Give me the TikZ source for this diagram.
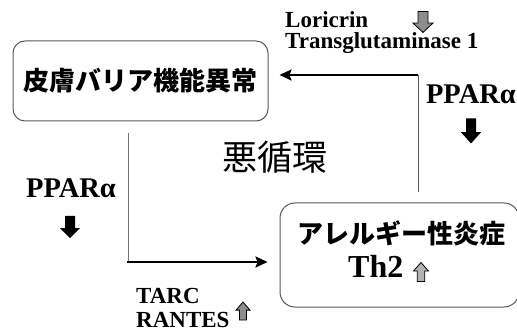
\documentclass[tikz,border=0pt]{standalone}
\usepackage{fontspec}
\setmainfont{Liberation Serif}
\newfontfamily\jp{Noto Sans CJK JP}
\usetikzlibrary{arrows.meta}
\tikzset{
  box/.style={draw=black!65, line width=1pt, rounded corners=12pt, inner sep=0pt},
  lat/.style={font=\fontsize{23}{23}\selectfont\bfseries, inner sep=0pt},
  big/.style={font=\fontsize{28.5}{28.5}\selectfont\bfseries, inner sep=0pt},
  jpbold/.style={font=\jp\bfseries\fontsize{26}{30}\selectfont, inner sep=0pt},
  thinline/.style={draw=black!55, line width=1pt},
  thickarrow/.style={draw=black, line width=2.2pt, -{Stealth[length=12pt,width=11pt,inset=2pt]}},
  blkarr/.pic={\path[pic actions] (-0.25,-0.5) -- (0.25,-0.5) -- (0.25,0.05) -- (0.5,0.05) -- (0,0.5) -- (-0.5,0.05) -- (-0.25,0.05) -- cycle;},
  solidarr/.style={fill=black, draw=none},
  grayarr/.style={fill=black!45, draw=black, line width=0.8pt},
}
\begin{document}
\begin{tikzpicture}[x=1pt, y=-1pt]
\useasboundingbox (0,0) rectangle (517,331);
% boxes
\node[box, jpbold, minimum width=255pt, minimum height=80pt] (b1) at (140.5,81) {皮膚バリア機能異常};
\node[box, rounded corners=15pt, minimum width=239pt, minimum height=104pt] (b2) at (399.5,255) {};
\node[jpbold] (t2a) at (401,233) {アレルギー性炎症};
\node[font=\fontsize{32}{32}\selectfont\bfseries, inner sep=0pt, anchor=base west] (t2b) at (348,278) {Th2};
\pic[grayarr, fill=black!30, xscale=15, yscale=-19] at (421,272) {blkarr};
% center text
\node[font=\jp\fontsize{35}{35}\selectfont, inner sep=0pt] (vc) at (275,157) {悪循環};
% connectors
\coordinate (p1) at (418,192);
\coordinate (p2) at (418,75);
\draw[thinline, draw=black!65] (p1) -- (p2);
\draw[thickarrow] (p2) -- ([xshift=11pt]b1.east |- p2);
\coordinate (q1) at (128,133);
\coordinate (q2) at (128,262);
\draw[thinline] (q1) -- (q2);
\draw[thickarrow] ([xshift=-1pt]q2) -- ([xshift=-12pt]b2.west |- q2);
% labels top
\node[lat, anchor=base west] (lor) at (285,28) {Loricrin};
\node[lat, anchor=base west] (tg) at (285,49) {Transglutaminase 1};
\pic[grayarr, xscale=20, yscale=21] at (423,22) {blkarr};
% PPAR right
\node[big, anchor=base east] (pr) at (516,104) {PPARα};
\pic[solidarr, xscale=20, yscale=25] at (471,131) {blkarr};
% PPAR left
\node[big, anchor=base] (pl) at (71,198) {PPARα};
\pic[solidarr, xscale=20, yscale=22] at (70,227) {blkarr};
% bottom labels
\node[lat, anchor=base west] (tarc) at (136,303) {TARC};
\node[lat, anchor=base west] (rant) at (136,327) {RANTES};
\pic[grayarr, xscale=14, yscale=-18] at (243,311) {blkarr};
\end{tikzpicture}
\end{document}
